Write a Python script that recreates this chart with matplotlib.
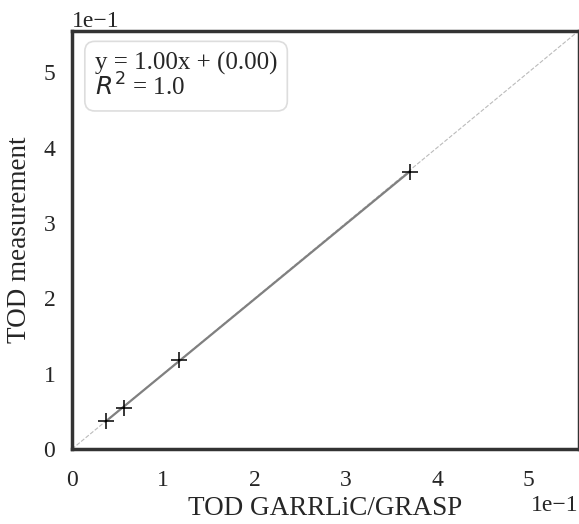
import numpy as np
import matplotlib.pyplot as plt

# TOD values
tod_garrlic = [0.037, 0.057, 0.117, 0.370]
tod_meas = [0.037, 0.055, 0.118, 0.368]
fit_label = 'y = 1.00x + (0.00)\n$R^2$ = 1.0'

plt.rcParams['font.family'] = ['Liberation Serif', 'DejaVu Sans']
plt.rcParams['font.size'] = 17
plt.rcParams['text.color'] = '.15'
plt.rcParams['xtick.color'] = '.15'
plt.rcParams['ytick.color'] = '.15'
plt.rcParams['axes.labelcolor'] = '.15'

fig = plt.figure(figsize=(5.79, 5.24), dpi=100)
ax = fig.add_axes([0.1244, 0.1431, 0.875, 0.798])

x = np.array(tod_garrlic)
y = np.array(tod_meas)
lim = max(x.max(), y.max()) * 1.5

# 1:1 line
ax.plot([0, lim], [0, lim], ls='--', color='#bbbbbb', lw=0.8, zorder=1)

# linear fit
slope, icpt = np.polyfit(x, y, 1)
xs = np.array([x.min(), x.max()])
ax.plot(xs, slope * xs + icpt, color='gray', lw=1.6, zorder=2)

ax.plot(x, y, ls='none', marker='+', color='black', ms=12, mew=1.1, zorder=3)

ax.set_xlim(0, lim)
ax.set_ylim(0, lim)
ax.ticklabel_format(style='sci', scilimits=(0, 0))
ax.xaxis.get_offset_text().set_fontsize(17)
ax.yaxis.get_offset_text().set_fontsize(17)
ax.tick_params(axis='x', length=0, pad=15, labelsize=17)
ax.tick_params(axis='y', length=0, pad=12, labelsize=17)

for sp in ax.spines.values():
    sp.set_linewidth(2.5)
    sp.set_color('#333333')

ax.set_xlabel('TOD GARRLiC/GRASP', fontsize=19.5, labelpad=4)
ax.set_ylabel('TOD measurement', fontsize=19.5, labelpad=8)

ax.text(0.045, 0.95, fit_label, transform=ax.transAxes, va='top', ha='left',
        fontsize=18, linespacing=0.95,
        bbox=dict(boxstyle='round,pad=0.4', fc='white', ec='#dddddd', lw=1.2))

fig.savefig('out.png', dpi=100)
